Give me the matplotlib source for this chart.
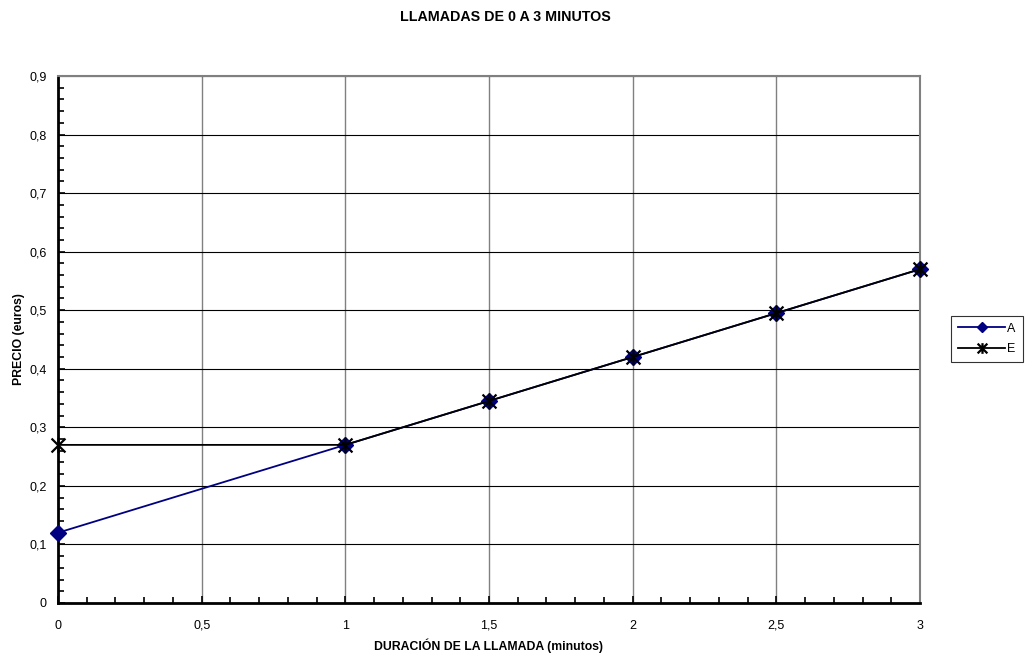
import numpy as np
import matplotlib.pyplot as plt
from matplotlib.path import Path
from matplotlib.ticker import MultipleLocator, FuncFormatter

plt.rcParams['font.family'] = ['Liberation Sans', 'DejaVu Sans']

# duración (minutos) y precio (euros) de cada tarifa
dur = [0, 1, 1.5, 2, 2.5, 3]
precio_a = [0.12, 0.27, 0.345, 0.42, 0.495, 0.57]
precio_e = [0.27, 0.27, 0.345, 0.42, 0.495, 0.57]

# marcador tipo asterisco: aspa más trazo vertical
estrella = Path([(-1, -1), (1, 1), (-1, 1), (1, -1), (0, -1.1), (0, 1.1)],
                [Path.MOVETO, Path.LINETO, Path.MOVETO, Path.LINETO, Path.MOVETO, Path.LINETO])

fig = plt.figure(figsize=(10.26, 6.55), dpi=100)
ax = fig.add_axes([0.0565, 0.0794, 0.8402, 0.8046])

ax.plot(dur, precio_a, color='#000080', lw=1.3, marker='D', ms=8, label='A', zorder=3, clip_on=False)
ax.plot(dur, precio_e, color='black', lw=1.3, marker=estrella, ms=11, mew=1.6, label='E', zorder=4,
        clip_on=False)

ax.set_xlim(0, 3)
ax.set_ylim(0, 0.9)
ax.xaxis.set_major_locator(MultipleLocator(0.5))
ax.xaxis.set_minor_locator(MultipleLocator(0.1))
ax.yaxis.set_major_locator(MultipleLocator(0.1))
ax.yaxis.set_minor_locator(MultipleLocator(0.02))

coma = FuncFormatter(lambda v, p: ('%g' % round(v, 2)).replace('.', ','))
ax.xaxis.set_major_formatter(coma)
ax.yaxis.set_major_formatter(coma)

ax.grid(axis='y', which='major', color='black', lw=0.8)
ax.grid(axis='x', which='major', color='#808080', lw=1.0)
ax.tick_params(which='both', direction='in', labelsize=9, width=1.2, color='black')
ax.tick_params(which='major', length=5)
ax.tick_params(which='minor', length=4)
ax.tick_params(axis='y', pad=8)
ax.tick_params(axis='x', pad=12)

for s in ['top', 'right']:
    ax.spines[s].set_color('#808080')
    ax.spines[s].set_linewidth(1.5)
for s in ['left', 'bottom']:
    ax.spines[s].set_color('black')
    ax.spines[s].set_linewidth(2)

ax.set_xlabel('DURACIÓN DE LA LLAMADA (minutos)', fontsize=8.8, fontweight='bold', labelpad=5)
ax.set_ylabel('PRECIO (euros)', fontsize=8.8, fontweight='bold', labelpad=3)
fig.suptitle('LLAMADAS DE 0 A 3 MINUTOS', fontsize=10.3, fontweight='bold', x=0.493, y=0.985)

lgd = ax.legend(loc='center left', bbox_to_anchor=(1.036, 0.501), fontsize=9, fancybox=False,
                edgecolor='black', handlelength=3.8, handletextpad=0.15, borderpad=0.55,
                labelspacing=0.7, markerscale=0.7, borderaxespad=0)
lgd.get_frame().set_linewidth(0.8)

fig.savefig('out.png', dpi=100)
